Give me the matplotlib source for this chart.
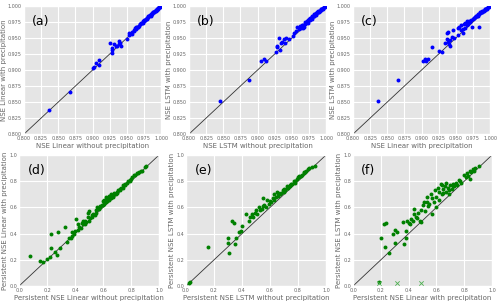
import numpy as np
import matplotlib
matplotlib.use("Agg")
import matplotlib.pyplot as plt

plt.style.use("ggplot")

# =====================================================
# DATA
# =====================================================

# (a) NSE Linear without vs with precipitation
a_x = [0.837, 0.867, 0.900, 0.902, 0.905, 0.910, 0.910, 0.925, 0.928, 0.929, 0.929,
       0.932, 0.934, 0.936, 0.939, 0.940, 0.941, 0.939, 0.950, 0.953, 0.953, 0.955,
       0.957, 0.958, 0.960, 0.962, 0.963, 0.965, 0.966, 0.968, 0.970, 0.971, 0.972,
       0.974, 0.975, 0.976, 0.977, 0.978, 0.979, 0.980, 0.981, 0.982, 0.983, 0.984,
       0.985, 0.986, 0.987, 0.988, 0.989, 0.990, 0.991, 0.992, 0.993, 0.994, 0.995,
       0.996, 0.997, 0.998, 0.999, 0.961, 0.967, 0.973, 0.979, 0.985, 0.990, 0.994,
       0.964, 0.969, 0.975, 0.981, 0.987, 0.992, 0.996]
a_y = [0.837, 0.866, 0.903, 0.905, 0.911, 0.916, 0.908, 0.943, 0.935, 0.931, 0.927,
       0.940, 0.937, 0.938, 0.946, 0.942, 0.938, 0.940, 0.948, 0.958, 0.955, 0.956,
       0.957, 0.960, 0.962, 0.966, 0.964, 0.967, 0.968, 0.969, 0.972, 0.974, 0.973,
       0.977, 0.976, 0.979, 0.978, 0.980, 0.981, 0.982, 0.983, 0.984, 0.985, 0.986,
       0.986, 0.988, 0.988, 0.990, 0.990, 0.991, 0.992, 0.993, 0.994, 0.995, 0.996,
       0.997, 0.998, 0.999, 0.999, 0.961, 0.967, 0.974, 0.980, 0.985, 0.990, 0.994,
       0.968, 0.972, 0.978, 0.984, 0.989, 0.994, 0.997]

# (b) NSE LSTM without vs with precipitation
b_x = [0.845, 0.888, 0.905, 0.910, 0.912, 0.927, 0.928, 0.929, 0.932, 0.933, 0.934,
       0.936, 0.938, 0.941, 0.940, 0.946, 0.952, 0.954, 0.956, 0.958, 0.960, 0.962,
       0.963, 0.965, 0.967, 0.968, 0.970, 0.971, 0.972, 0.974, 0.975, 0.976, 0.977,
       0.978, 0.979, 0.980, 0.981, 0.982, 0.983, 0.984, 0.985, 0.986, 0.987, 0.988,
       0.989, 0.990, 0.991, 0.992, 0.993, 0.994, 0.995, 0.996, 0.997, 0.998, 0.966,
       0.973, 0.979, 0.985, 0.990, 0.969, 0.975, 0.982, 0.988, 0.993]
b_y = [0.852, 0.885, 0.914, 0.918, 0.914, 0.929, 0.936, 0.938, 0.950, 0.931, 0.942,
       0.944, 0.949, 0.950, 0.943, 0.948, 0.953, 0.958, 0.961, 0.968, 0.964, 0.969,
       0.966, 0.970, 0.971, 0.968, 0.975, 0.973, 0.977, 0.978, 0.980, 0.979, 0.981,
       0.982, 0.983, 0.984, 0.985, 0.985, 0.987, 0.988, 0.988, 0.989, 0.990, 0.991,
       0.992, 0.992, 0.993, 0.994, 0.995, 0.996, 0.996, 0.997, 0.998, 0.999, 0.966,
       0.974, 0.980, 0.986, 0.991, 0.972, 0.978, 0.984, 0.990, 0.995]

# (c) NSE Linear with vs LSTM with precipitation
c_x = [0.836, 0.865, 0.902, 0.905, 0.907, 0.910, 0.916, 0.926, 0.930, 0.934, 0.937,
       0.938, 0.937, 0.939, 0.940, 0.941, 0.942, 0.944, 0.946, 0.948, 0.953, 0.953,
       0.955, 0.958, 0.960, 0.962, 0.964, 0.967, 0.970, 0.973, 0.975, 0.984, 0.978,
       0.980, 0.981, 0.982, 0.983, 0.984, 0.985, 0.986, 0.987, 0.988, 0.989, 0.990,
       0.991, 0.992, 0.993, 0.994, 0.995, 0.996, 0.997, 0.998, 0.963, 0.968, 0.972,
       0.976, 0.979, 0.957, 0.961, 0.966, 0.971, 0.977, 0.983, 0.988, 0.993]
c_y = [0.852, 0.885, 0.914, 0.918, 0.914, 0.918, 0.936, 0.930, 0.928, 0.942, 0.958,
       0.960, 0.949, 0.944, 0.940, 0.938, 0.947, 0.951, 0.962, 0.950, 0.955, 0.966,
       0.968, 0.970, 0.958, 0.972, 0.974, 0.976, 0.977, 0.968, 0.980, 0.967, 0.983,
       0.984, 0.985, 0.985, 0.987, 0.988, 0.989, 0.990, 0.990, 0.991, 0.992, 0.993,
       0.993, 0.994, 0.995, 0.996, 0.996, 0.997, 0.998, 0.999, 0.966, 0.972, 0.978,
       0.982, 0.985, 0.962, 0.964, 0.971, 0.975, 0.981, 0.986, 0.991, 0.995]

# (d) Persistent NSE Linear without vs with precipitation
d_x = [0.08, 0.15, 0.17, 0.20, 0.22, 0.23, 0.23, 0.26, 0.27, 0.28, 0.29, 0.33, 0.34,
       0.36, 0.37, 0.38, 0.38, 0.39, 0.40, 0.41, 0.42, 0.42, 0.43, 0.44, 0.45, 0.46,
       0.46, 0.47, 0.48, 0.49, 0.49, 0.50, 0.50, 0.51, 0.52, 0.52, 0.53, 0.54, 0.55,
       0.56, 0.57, 0.58, 0.59, 0.60, 0.60, 0.61, 0.62, 0.62, 0.63, 0.64, 0.64, 0.65,
       0.66, 0.66, 0.67, 0.68, 0.69, 0.70, 0.71, 0.72, 0.73, 0.74, 0.75, 0.76, 0.77,
       0.78, 0.79, 0.80, 0.81, 0.82, 0.83, 0.84, 0.85, 0.86, 0.87, 0.88, 0.90, 0.91,
       0.58, 0.63, 0.67, 0.70, 0.72, 0.76, 0.79, 0.61, 0.65, 0.68, 0.74, 0.55, 0.47]
d_y = [0.23, 0.19, 0.18, 0.21, 0.22, 0.29, 0.40, 0.26, 0.24, 0.41, 0.29, 0.45, 0.34,
       0.37, 0.37, 0.38, 0.41, 0.40, 0.42, 0.51, 0.43, 0.47, 0.45, 0.44, 0.48, 0.47,
       0.50, 0.47, 0.49, 0.53, 0.56, 0.50, 0.57, 0.52, 0.54, 0.53, 0.55, 0.54, 0.56,
       0.60, 0.59, 0.60, 0.62, 0.62, 0.65, 0.63, 0.68, 0.64, 0.65, 0.69, 0.66, 0.67,
       0.70, 0.67, 0.68, 0.70, 0.70, 0.71, 0.73, 0.73, 0.75, 0.75, 0.77, 0.77, 0.79,
       0.80, 0.81, 0.82, 0.83, 0.85, 0.85, 0.86, 0.86, 0.87, 0.88, 0.88, 0.91, 0.92,
       0.61, 0.67, 0.69, 0.72, 0.74, 0.78, 0.80, 0.66, 0.69, 0.71, 0.77, 0.58, 0.50]

# (e) Persistent NSE LSTM without vs with precipitation
e_x = [0.02, 0.03, 0.16, 0.30, 0.30, 0.31, 0.33, 0.34, 0.35, 0.36, 0.38, 0.39, 0.40,
       0.43, 0.45, 0.46, 0.47, 0.48, 0.49, 0.50, 0.51, 0.52, 0.53, 0.54, 0.55, 0.55,
       0.56, 0.57, 0.58, 0.59, 0.60, 0.61, 0.62, 0.63, 0.63, 0.64, 0.65, 0.66, 0.67,
       0.68, 0.69, 0.70, 0.71, 0.72, 0.73, 0.74, 0.75, 0.76, 0.77, 0.78, 0.79, 0.80,
       0.81, 0.82, 0.83, 0.84, 0.85, 0.86, 0.87, 0.88, 0.90, 0.92, 0.70, 0.74, 0.78,
       0.66, 0.72, 0.81, 0.84]
e_y = [0.02, 0.03, 0.30, 0.37, 0.33, 0.25, 0.50, 0.48, 0.32, 0.37, 0.41, 0.42, 0.46,
       0.55, 0.50, 0.53, 0.55, 0.53, 0.56, 0.58, 0.55, 0.60, 0.58, 0.59, 0.67, 0.61,
       0.62, 0.60, 0.66, 0.63, 0.65, 0.64, 0.67, 0.70, 0.66, 0.68, 0.72, 0.69, 0.70,
       0.71, 0.73, 0.74, 0.73, 0.76, 0.75, 0.77, 0.78, 0.78, 0.80, 0.80, 0.82, 0.83,
       0.83, 0.84, 0.85, 0.86, 0.87, 0.88, 0.89, 0.90, 0.91, 0.92, 0.72, 0.76, 0.79,
       0.71, 0.75, 0.84, 0.87]

# (f) Persistent NSE Linear with vs LSTM with precipitation
f_x = [0.19, 0.20, 0.22, 0.23, 0.24, 0.26, 0.29, 0.30, 0.30, 0.32, 0.36, 0.37, 0.38,
       0.38, 0.39, 0.40, 0.41, 0.42, 0.43, 0.44, 0.44, 0.45, 0.46, 0.47, 0.48, 0.49,
       0.50, 0.51, 0.52, 0.53, 0.53, 0.54, 0.55, 0.56, 0.57, 0.58, 0.59, 0.60, 0.61,
       0.62, 0.62, 0.63, 0.64, 0.65, 0.66, 0.67, 0.67, 0.68, 0.69, 0.70, 0.71, 0.72,
       0.73, 0.74, 0.75, 0.76, 0.78, 0.80, 0.81, 0.82, 0.83, 0.84, 0.84, 0.85, 0.86,
       0.87, 0.88, 0.91, 0.57, 0.49, 0.60, 0.65, 0.69, 0.72, 0.77, 0.64]
f_y = [0.03, 0.37, 0.47, 0.30, 0.48, 0.25, 0.40, 0.43, 0.33, 0.41, 0.49, 0.32, 0.37,
       0.42, 0.50, 0.48, 0.47, 0.51, 0.50, 0.59, 0.55, 0.53, 0.52, 0.56, 0.50, 0.58,
       0.62, 0.64, 0.57, 0.64, 0.68, 0.61, 0.63, 0.70, 0.67, 0.64, 0.73, 0.68, 0.75,
       0.72, 0.66, 0.78, 0.70, 0.74, 0.76, 0.72, 0.79, 0.75, 0.70, 0.77, 0.74, 0.78,
       0.76, 0.79, 0.77, 0.81, 0.79, 0.85, 0.83, 0.86, 0.84, 0.88, 0.82, 0.87, 0.89,
       0.88, 0.90, 0.92, 0.55, 0.49, 0.60, 0.71, 0.73, 0.76, 0.80, 0.77]
f_cross_x = [0.19, 0.32, 0.49]
f_cross_y = [0.02, 0.02, 0.02]

# =====================================================
# FIGURE
# =====================================================

fig = plt.figure(figsize=(5.0, 3.04), dpi=100)

panels = [
    ("(a)", a_x, a_y, "blue", "NSE Linear without precipitation",
     "NSE Linear with precipitation", [0.048, 0.559, 0.274, 0.421], 0.8),
    ("(b)", b_x, b_y, "blue", "NSE LSTM without precipitation",
     "NSE LSTM with precipitation", [0.378, 0.559, 0.274, 0.421], 0.8),
    ("(c)", c_x, c_y, "blue", "NSE Linear with precipitation",
     "NSE LSTM with precipitation", [0.706, 0.559, 0.274, 0.421], 0.8),
    ("(d)", d_x, d_y, "green", "Persistent NSE Linear without precipitation",
     "Persistent NSE Linear with precipitation", [0.038, 0.059, 0.280, 0.431], 0.0),
    ("(e)", e_x, e_y, "green", "Persistent NSE LSTM without precipitation",
     "Persistent NSE LSTM with precipitation", [0.372, 0.059, 0.280, 0.431], 0.0),
    ("(f)", f_x, f_y, "green", "Persistent NSE Linear with precipitation",
     "Persistent NSE LSTM with precipitation", [0.706, 0.059, 0.278, 0.431], 0.0),
]

for label, xs, ys, color, xlab, ylab, pos, lo in panels:
    ax = fig.add_axes(pos)
    ax.plot([lo, 1], [lo, 1], color="#333333", lw=0.6, zorder=2)
    ax.scatter(xs, ys, s=8, color=color, zorder=3, linewidths=0)
    if label == "(f)":
        ax.scatter(f_cross_x, f_cross_y, s=10, marker="x", color="#4caf50",
                   linewidths=0.6, zorder=3)
    ax.set_xlim(lo, 1)
    ax.set_ylim(lo, 1)
    if lo > 0:
        ticks = np.arange(0.8, 1.0001, 0.025)
        ax.set_xticks(ticks)
        ax.set_yticks(ticks)
        ax.set_xticklabels(["%.3f" % t for t in ticks])
        ax.set_yticklabels(["%.3f" % t for t in ticks])
    else:
        ticks = np.arange(0, 1.0001, 0.2)
        ax.set_xticks(ticks)
        ax.set_yticks(ticks)
        ax.set_xticklabels(["%.1f" % t for t in ticks])
        ax.set_yticklabels(["%.1f" % t for t in ticks])
    ax.tick_params(labelsize=3.5, length=0, pad=1.5, colors="#666666")
    ax.set_xlabel(xlab, fontsize=5, color="#666666", labelpad=1)
    ax.set_ylabel(ylab, fontsize=5, color="#666666", labelpad=1)
    ax.text(0.06, 0.93, label, transform=ax.transAxes, fontsize=9,
            va="top", ha="left", color="black")

plt.savefig("out.png", dpi=100)
